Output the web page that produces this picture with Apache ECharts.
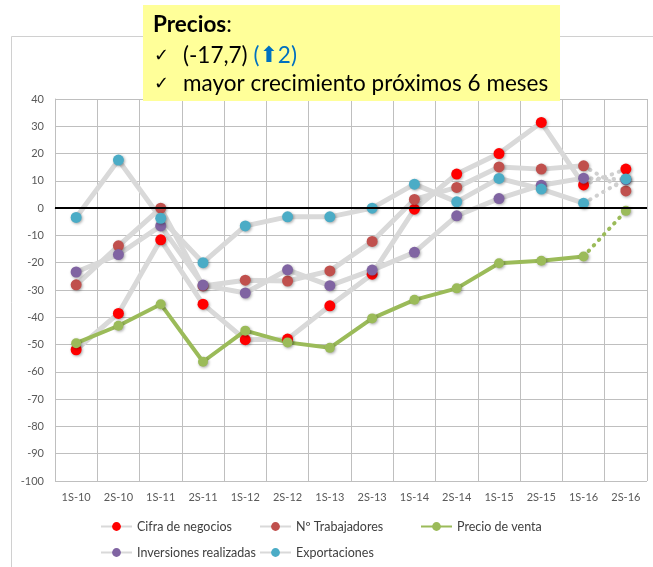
<!DOCTYPE html>
<html>
<head>
<meta charset="utf-8">
<script src="https://cdn.jsdelivr.net/npm/echarts@6/dist/echarts.min.js"></script>
<style>
  html, body { margin: 0; padding: 0; background: #ffffff; }
  #chart { width: 653px; height: 567px; }
</style>
</head>
<body>
<div id="chart"></div>
<script>
const categories = ['1S-10','2S-10','1S-11','2S-11','1S-12','2S-12','1S-13','2S-13','1S-14','2S-14','1S-15','2S-15','1S-16','2S-16'];
const cifraNegocios = [-51.9, -38.6, -11.6, -35.2, -48.2, -48.0, -35.8, -24.2, -0.4, 12.5, 20.0, 31.4, 8.5, 14.3];
const trabajadores = [-28.1, -13.8, 0.0, -28.5, -26.4, -26.7, -23.0, -12.2, 3.2, 7.6, 15.1, 14.3, 15.5, 6.3];
const precioVenta = [-49.5, -43.1, -35.2, -56.3, -44.9, -49.2, -51.2, -40.4, -33.6, -29.4, -20.2, -19.3, -17.7, -1.0];
const inversiones = [-23.4, -17.0, -6.5, -28.2, -31.1, -22.6, -28.4, -22.7, -16.2, -2.8, 3.5, 8.4, 11.0, 10.5];
const exportaciones = [-3.4, 17.6, -3.7, -20.0, -6.5, -3.2, -3.2, 0.0, 8.8, 2.3, 10.9, 7.0, 1.8, 10.7];

const defs = [
  { name: 'Cifra de negocios', data: cifraNegocios, color: '#ff0000', line: '#d9d9d9', lw: 5, size: 11 },
  { name: 'Nº Trabajadores', data: trabajadores, color: '#c0504d', line: '#d9d9d9', lw: 5, size: 11 },
  { name: 'Precio de venta', data: precioVenta, color: '#9bbb59', line: '#9bbb59', lw: 4, size: 10 },
  { name: 'Inversiones realizadas', data: inversiones, color: '#8064a2', line: '#d9d9d9', lw: 5, size: 11 },
  { name: 'Exportaciones', data: exportaciones, color: '#4bacc6', line: '#d9d9d9', lw: 5, size: 11 }
];

const n = categories.length;
const shadow = { shadowBlur: 3, shadowColor: 'rgba(0,0,0,0.35)', shadowOffsetX: 1, shadowOffsetY: 1 };

const series = [{
  type: 'line', name: 'zero', data: [], silent: true,
  markLine: {
    silent: true, symbol: ['none', 'none'], label: { show: false },
    lineStyle: { color: '#000000', width: 2, type: 'solid' },
    data: [{ yAxis: 0 }]
  }
}];
defs.forEach(d => {
  series.push({
    type: 'line', name: d.name,
    data: d.data.map((v, i) => (i < n - 1 ? v : '-')),
    symbol: 'circle', symbolSize: d.size, showAllSymbol: true,
    lineStyle: { color: d.line, width: d.lw },
    itemStyle: Object.assign({ color: d.color, borderWidth: 0 }, shadow)
  });
});
defs.forEach(d => {
  series.push({
    type: 'line', name: d.name + ' (prev.)',
    data: d.data.map((v, i) => (i === n - 2 ? { value: v, symbol: 'none' } : (i === n - 1 ? v : '-'))),
    symbol: 'circle', symbolSize: d.size, showAllSymbol: true,
    lineStyle: { color: d.line === '#d9d9d9' ? '#d0d0d0' : d.line, width: 4, type: [0.5, 7], cap: 'round' },
    itemStyle: Object.assign({ color: d.color, borderWidth: 0 }, shadow)
  });
});

const legendBase = {
  padding: 0, itemWidth: 31, itemHeight: 11,
  textStyle: { fontFamily: 'Lato', fontSize: 12.5, color: '#404040' },
  selectedMode: false
};
const legendPos = [
  [100, 520], [259, 520], [420, 520], [100, 546], [259, 546]
];
const legends = defs.map((d, i) => Object.assign({}, legendBase, { data: [d.name], left: legendPos[i][0], top: legendPos[i][1] }));

const chart = echarts.init(document.getElementById('chart'));
chart.setOption({
  animation: false,
  backgroundColor: '#ffffff',
  grid: { left: 55, right: 6, top: 99, bottom: 86, containLabel: false },
  legend: legends,
  xAxis: {
    type: 'category', data: categories, boundaryGap: true,
    axisLine: { show: true, lineStyle: { color: '#bfbfbf', width: 1 } },
    axisTick: { show: true, length: 4, lineStyle: { color: '#bfbfbf' } },
    splitLine: { show: true, lineStyle: { color: '#bfbfbf', width: 1 } },
    axisLabel: { fontFamily: 'Lato', fontSize: 11, color: '#595959', margin: 11, interval: 0 }
  },
  yAxis: {
    type: 'value', min: -100, max: 40, interval: 10,
    axisLine: { show: true, lineStyle: { color: '#bfbfbf' } },
    axisTick: { show: false },
    splitLine: { show: true, lineStyle: { color: '#bfbfbf', width: 1 } },
    axisLabel: { fontFamily: 'Lato', fontSize: 11, color: '#595959', margin: 11 }
  },
  graphic: [
    { type: 'rect', shape: { x: 11.5, y: 36.5, width: 700, height: 600 }, style: { fill: 'none', stroke: '#d0d0d0', lineWidth: 1 }, silent: true, z: -1 },
    { type: 'rect', shape: { x: 143, y: 5, width: 417, height: 96 }, style: { fill: '#ffff99' }, silent: true, z: 100 },
    { type: 'text', x: 153, y: 25, z: 101, style: {
        text: '{b|Precios}:', fontFamily: 'Lato', fontSize: 22.5, fill: '#000000', verticalAlign: 'middle', align: 'left',
        rich: { b: { fontFamily: 'Lato', fontSize: 22.5, fontWeight: 'bold', fill: '#000000' } } } },
    { type: 'text', x: 154, y: 56, z: 101, style: { text: '✓', fontFamily: 'DejaVu Sans', fontWeight: 'bold', fontSize: 18, fill: '#000000', verticalAlign: 'middle', align: 'left' } },
    { type: 'text', x: 183, y: 56, z: 101, style: {
        text: '(-17,7) {blue|(}{arr|⬆}{blue|2)}', fontFamily: 'Lato', fontSize: 22.5, fill: '#000000', verticalAlign: 'middle', align: 'left',
        rich: {
          blue: { fontFamily: 'Lato', fontSize: 22.5, fill: '#0070c0' },
          arr: { fontFamily: 'DejaVu Sans', fontSize: 22, fill: '#0070c0' }
        } } },
    { type: 'text', x: 154, y: 84, z: 101, style: { text: '✓', fontFamily: 'DejaVu Sans', fontWeight: 'bold', fontSize: 18, fill: '#000000', verticalAlign: 'middle', align: 'left' } },
    { type: 'text', x: 183, y: 84, z: 101, style: { text: 'mayor crecimiento próximos 6 meses', fontFamily: 'Lato', fontSize: 22.5, fill: '#000000', verticalAlign: 'middle', align: 'left' } }
  ],
  series: series
});
</script>
</body>
</html>
